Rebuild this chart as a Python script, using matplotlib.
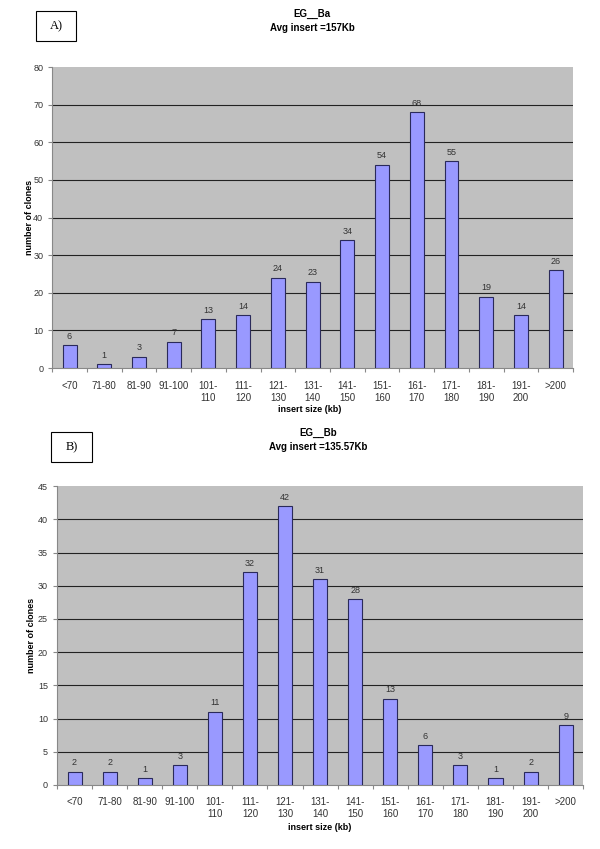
import numpy as np
import matplotlib.pyplot as plt
from matplotlib.patches import Rectangle

plt.rcParams['font.family'] = ['Liberation Sans', 'DejaVu Sans']

categories = ['<70', '71-80', '81-90', '91-100', '101-\n110', '111-\n120', '121-\n130',
              '131-\n140', '141-\n150', '151-\n160', '161-\n170', '171-\n180',
              '181-\n190', '191-\n200', '>200']
counts_a = [6, 1, 3, 7, 13, 14, 24, 23, 34, 54, 68, 55, 19, 14, 26]
counts_b = [2, 2, 1, 3, 11, 32, 42, 31, 28, 13, 6, 3, 1, 2, 9]

panels = [
    dict(rect=[0.087, 0.5665, 0.868, 0.3545], counts=counts_a, ymax=80, step=10,
         name='EG__Ba', avg='Avg insert =157Kb', label='A)',
         box=(36, 11, 40, 30), title_x=312, title_y=14, xlab=(310, 410), ylab_x=30),
    dict(rect=[0.095, 0.0754, 0.877, 0.352], counts=counts_b, ymax=45, step=5,
         name='EG__Bb', avg='Avg insert =135.57Kb', label='B)',
         box=(51, 432, 41, 30), title_x=318, title_y=433, xlab=(320, 828), ylab_x=32),
]

fig = plt.figure(figsize=(6, 8.49), dpi=100)
W, H = 600, 849

for p in panels:
    ax = fig.add_axes(p['rect'])
    ax.set_facecolor('#c0c0c0')
    x = np.arange(len(categories))
    ax.bar(x, p['counts'], width=0.4, color='#9999ff', edgecolor='#2a2a5a', linewidth=0.8, zorder=3)
    for xi, v in zip(x, p['counts']):
        ax.text(xi, v + p['ymax'] * 0.015, str(v), ha='center', va='bottom', fontsize=6.5, color='#333333')
    ax.set_xlim(-0.5, len(categories) - 0.5)
    ax.set_ylim(0, p['ymax'])
    ax.set_yticks(np.arange(0, p['ymax'] + 1, p['step']))
    ax.yaxis.grid(True, color='#222222', linewidth=0.8)
    ax.set_axisbelow(True)
    ax.set_xticks(np.arange(-0.5, len(categories), 1))
    ax.set_xticklabels([])
    ax.set_xticks(x, minor=True)
    ax.set_xticklabels(categories, minor=True, fontsize=7, color='#333333', linespacing=1.25)
    ax.tick_params(axis='x', which='minor', length=0, pad=9)
    ax.tick_params(axis='x', which='major', length=3, color='#888888')
    ax.tick_params(axis='y', labelsize=6.5, labelcolor='#333333', length=3, color='#888888')
    fig.canvas.draw()
    ax.yaxis.get_gridlines()[-1].set_visible(False)
    ax.yaxis.get_gridlines()[0].set_visible(False)
    for s in ['top', 'right']:
        ax.spines[s].set_visible(False)
    ax.spines['left'].set_color('#888888')
    ax.spines['bottom'].set_color('#888888')

    fig.text(p['ylab_x'] / W, p['rect'][1] + p['rect'][3] / 2, 'number of clones', rotation=90,
             ha='center', va='center', fontsize=6.5, fontweight='bold')
    fig.text(p['title_x'] / W, 1 - p['title_y'] / H, p['name'], ha='center', va='center',
             fontsize=7, fontweight='bold')
    fig.text(p['title_x'] / W, 1 - (p['title_y'] + 14) / H, p['avg'], ha='center', va='center',
             fontsize=7, fontweight='bold')
    fig.text(p['xlab'][0] / W, 1 - p['xlab'][1] / H, 'insert size (kb)',
             ha='center', va='center', fontsize=6.5, fontweight='bold')
    bx, by, bw, bh = p['box']
    fig.patches.append(Rectangle((bx / W, 1 - (by + bh) / H), bw / W, bh / H,
                                 transform=fig.transFigure, fill=False, edgecolor='black', linewidth=0.8))
    fig.text((bx + bw / 2) / W, 1 - (by + bh / 2) / H, p['label'], ha='center', va='center',
             fontsize=9, family='Liberation Serif')

fig.savefig('out.png', dpi=100)
